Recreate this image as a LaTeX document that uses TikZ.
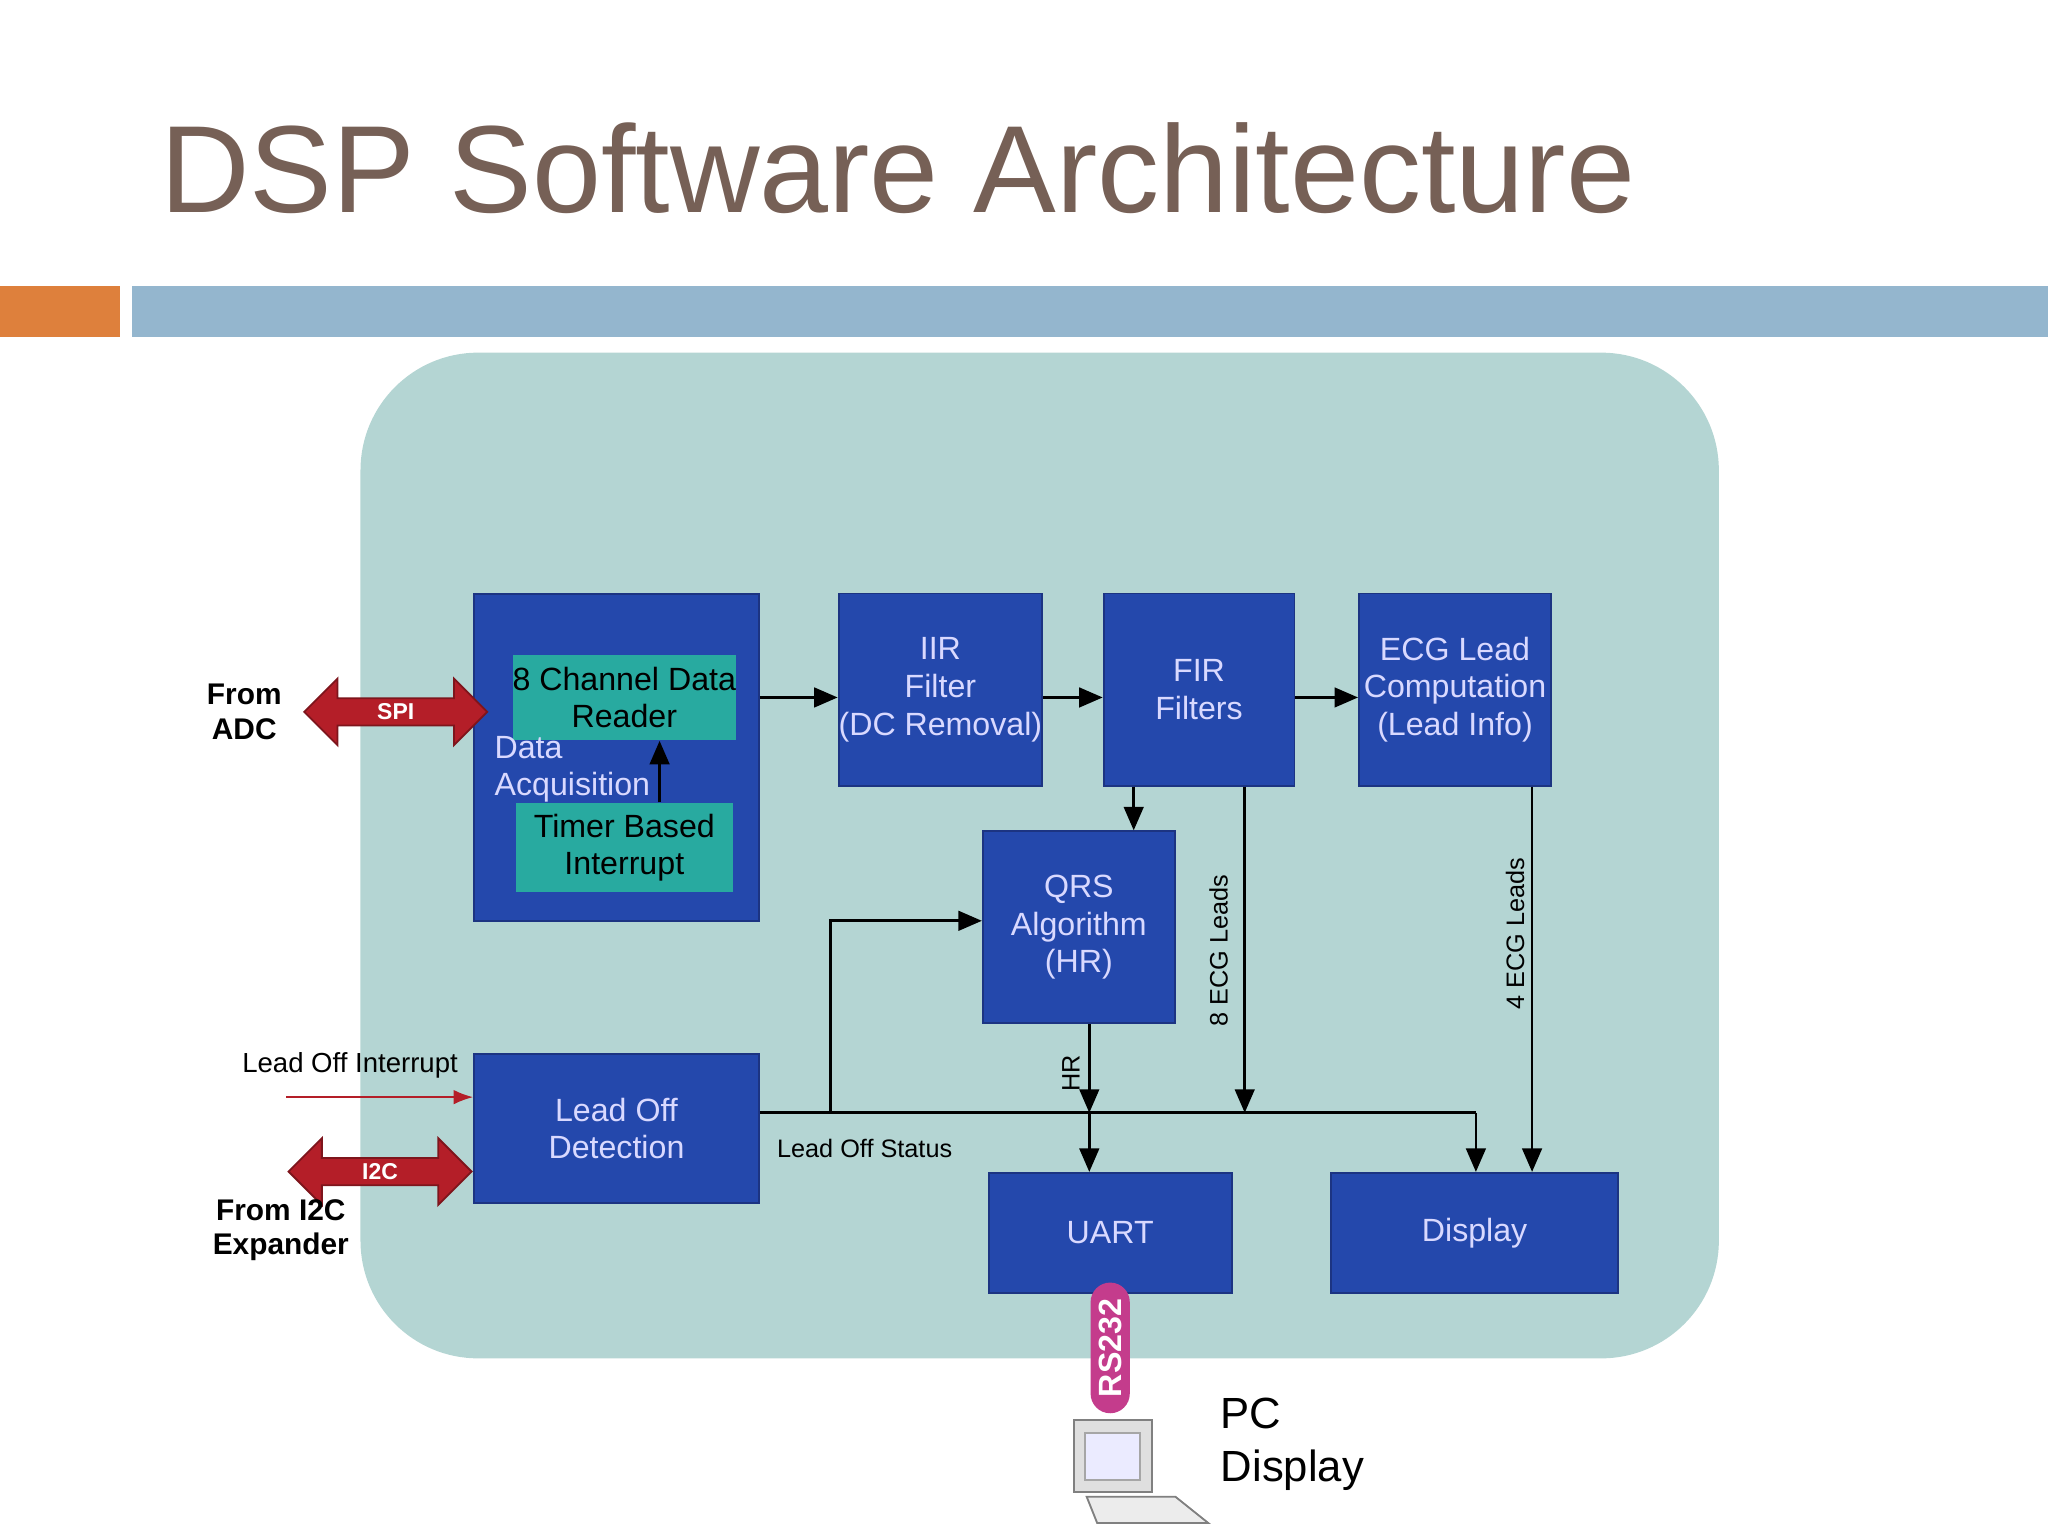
\documentclass[tikz,border=0pt]{standalone}
\usepackage{fontspec}
\setmainfont{Liberation Sans}
\usetikzlibrary{arrows.meta, positioning, shapes.arrows, calc}
\definecolor{titlebrown}{RGB}{118, 96, 86}
\definecolor{barorange}{RGB}{222, 128, 60}
\definecolor{barblue}{RGB}{148, 182, 206}
\definecolor{panel}{RGB}{180, 213, 211}
\definecolor{blockblue}{RGB}{36, 72, 172}
\definecolor{blockedge}{RGB}{28, 52, 130}
\definecolor{innerteal}{RGB}{40, 170, 160}
\definecolor{portred}{RGB}{180, 30, 40}
\definecolor{pillpink}{RGB}{196, 60, 140}

\begin{document}
\begin{tikzpicture}[x=0.01cm, y=-0.01cm,
        block/.style={rectangle, draw=blockedge, fill=blockblue, text=white!85!blue,
                      inner sep=0pt, align=center, font=\fontsize{7}{8.2}\selectfont},
        inner/.style={rectangle, fill=innerteal, text=black, inner sep=0pt,
                      align=center, font=\fontsize{7}{8.2}\selectfont},
        port/.style={double arrow, fill=portred, draw=portred!70!black, text=white,
                     double arrow head extend=1.5mm, minimum height=14mm, minimum width=4mm,
                     inner sep=1pt, font=\fontsize{5}{6}\selectfont\bfseries},
        lbl/.style={font=\fontsize{5.5}{6.5}\selectfont, align=center},
        arrow/.style={-{Triangle[length=1.8mm, width=1.5mm]}, semithick},
    ]
        \useasboundingbox (0,0) rectangle (1568,1176);

        % header
        \node[anchor=base west, text=titlebrown, font=\fontsize{27}{30}\selectfont, inner sep=0pt]
            (title) at (122,163) {DSP Software Architecture};
        \fill[barorange] (0,219) rectangle (92,258);
        \fill[barblue] (101,219) rectangle (1568,258);

        % panel
        \fill[panel, rounded corners=0.9cm] (276,270) rectangle (1316,1040);

        % blocks
        \node[block, minimum width=2.18cm, minimum height=2.5cm] (acq) at (472,580) {};
        \node[inner, minimum width=1.66cm, minimum height=0.65cm] (reader) at (478,534) {8 Channel Data\\Reader};
        \node[inner, minimum width=1.66cm, minimum height=0.68cm] (timer) at (478,649) {Timer Based\\Interrupt};
        \node[text=white!85!blue, align=left, anchor=west, inner sep=0pt, font=\fontsize{7}{8.2}\selectfont]
            (acqlbl) at (378,589) {Data\\Acquisition};
        \node[block, minimum width=1.45cm, minimum height=1.47cm] (iir) at (720,528) {IIR\\Filter\\(DC Removal)};
        \node[block, minimum width=1.46cm, minimum height=1.47cm] (fir) at (918,528) {FIR\\Filters};
        \node[block, minimum width=1.47cm, minimum height=1.47cm] (ecg) at (1114,528) {ECG Lead\\Computation\\(Lead Info)};
        \node[block, minimum width=1.47cm, minimum height=1.47cm] (qrs) at (826,710) {QRS\\Algorithm\\(HR)};
        \node[block, minimum width=2.18cm, minimum height=1.14cm] (leadoff) at (472,864) {Lead Off\\Detection};
        \node[block, minimum width=1.86cm, minimum height=0.92cm] (uart) at (850,944) {UART};
        \node[block, minimum width=2.2cm, minimum height=0.92cm] (display) at (1129,944) {Display};

        % data path
        \draw[arrow] (timer.north -| 505,0) -- (reader.south -| 505,0);
        \draw[arrow] (acq.east |- 0,534) -- (iir.west |- 0,534);
        \draw[arrow] (iir.east |- 0,534) -- (fir.west |- 0,534);
        \draw[arrow] (fir.east |- 0,534) -- (ecg.west |- 0,534);
        \draw[arrow] (fir.south -| 868,0) -- (qrs.north -| 868,0);

        % status bus
        \coordinate (bus) at (1130,852);
        \draw[semithick] (leadoff.east |- 0,852) -- (bus);
        \draw[arrow] (bus) -- (display.north -| bus);
        \draw[arrow] (636,852) -- (636,705) -- (qrs.west |- 0,705);
        \node[lbl, anchor=north] (status) at (662,860) {Lead Off Status};
        \draw[arrow] (qrs.south -| 834,0) -- (834,852);
        \draw[arrow] (834,852) -- (uart.north -| 834,0);
        \node[lbl, rotate=90] (hr) at (820,822) {HR};
        \draw[arrow] (fir.south -| 953,0) -- (953,852);
        \node[lbl, rotate=90] (eight) at (933,728) {8 ECG Leads};
        \draw[arrow] (ecg.south -| 1173,0) -- (display.north -| 1173,0);
        \node[lbl, rotate=90] (four) at (1160,715) {4 ECG Leads};

        % external inputs
        \node[port] (spi) at (303,545) {SPI};
        \node[lbl, font=\fontsize{6.5}{7.5}\selectfont\bfseries] (adc) at (187,545) {From\\ADC};
        \node[port] (i2c) at (291,897) {I2C};
        \node[lbl, font=\fontsize{6.5}{7.5}\selectfont\bfseries] (expander) at (215,942) {From I2C\\Expander};
        \node[lbl, font=\fontsize{6}{7}\selectfont] (intlbl) at (268,816) {Lead Off Interrupt};
        \coordinate (intsrc) at (219,840);
        \draw[-{Latex[length=1.5mm]}, portred, thin] (intsrc) -- (leadoff.west |- intsrc);

        % PC link
        \node[rectangle, rounded corners=1.5mm, fill=pillpink, text=white, rotate=90,
              minimum width=1cm, minimum height=0.3cm, inner sep=0pt,
              font=\fontsize{7}{8}\selectfont\bfseries] (rs) at (850,1032) {RS232};
        \node[rectangle, draw=gray, fill=gray!25, minimum width=0.6cm, minimum height=0.55cm,
              inner sep=0pt] (pc) at (852,1115) {};
        \node[rectangle, draw=gray!70, fill=blue!8, minimum width=0.42cm, minimum height=0.36cm,
              inner sep=0pt] (screen) at (pc) {};
        \draw[gray, fill=gray!15] (832,1146) -- (900,1146) -- (925,1166) -- (840,1166) -- cycle;
        \node[anchor=west, font=\fontsize{9.5}{11.5}\selectfont, align=left, inner sep=0pt]
            (pclbl) at (934,1106) {PC\\Display};
    \end{tikzpicture}
\end{document}
